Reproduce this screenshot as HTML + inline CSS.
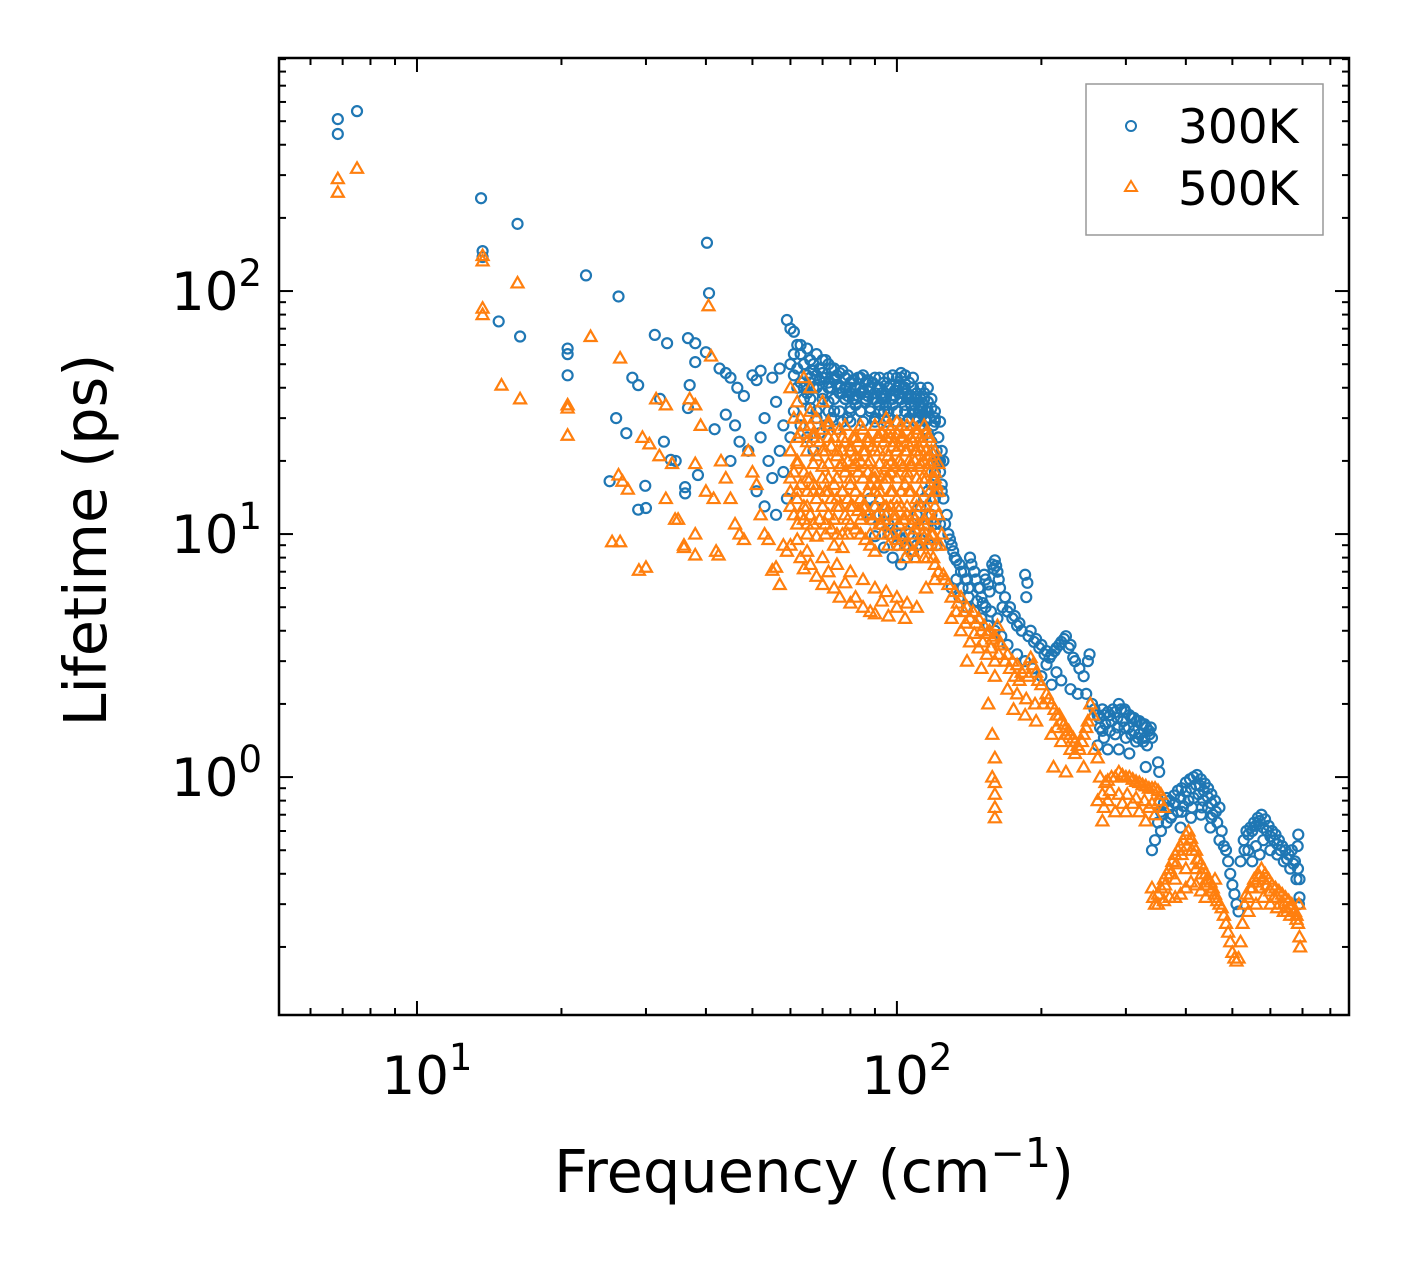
<!DOCTYPE html>
<html><head><meta charset="utf-8"><style>
body{margin:0;background:#fff}
svg text{font-family:"DejaVu Sans","Liberation Sans",sans-serif;fill:#000}
</style></head><body>
<svg id="chart" width="1408" height="1265" viewBox="0 0 1408 1265" xmlns="http://www.w3.org/2000/svg">
<rect x="0" y="0" width="1408" height="1265" fill="#fff"/>
<g id="marks"></g>
<g id="ticks"></g>
<rect x="279" y="58" width="1070" height="957" fill="none" stroke="#000" stroke-width="2.5"/>
<text x="814" y="1192" font-size="59" text-anchor="middle">Frequency (cm<tspan dy="-25" font-size="41">−1</tspan><tspan dy="25">)</tspan></text>
<text transform="translate(106,540) rotate(-90)" font-size="59" text-anchor="middle">Lifetime (ps)</text>
<g>
<rect x="1086" y="84" width="237" height="151" fill="#fff" stroke="#999" stroke-width="1.5"/>
<circle cx="1131" cy="126" r="5" fill="none" stroke="#1f77b4" stroke-width="2"/>
<text x="1178" y="143" font-size="47">300K</text>
<path d="M1131,181 L1137,191 L1125,191 Z" fill="none" stroke="#ff7f0e" stroke-width="2"/>
<text x="1178" y="205" font-size="47">500K</text>
</g>
</svg>
<script>
const freq300=[6.84,6.84,7.5,13.6,13.7,13.7,16.2,22.5,26.3,40.2,40.6,14.8,16.4,20.6,20.6,20.6,31.3,33.2,36.7,38,38,37,28.1,28.9,32.1,36.7,27.3,26,32.7,33.8,34.6,25.2,29.9,28.9,30,36.2,36.2,38.5,41.7,42.7,40,
44,45,46.5,48,44,46,47,45,49,50,51,52,53,52,54,55,51,53,56,55,57,56,58,57,58,59,
59,60,61,62,63,64,65,66,67,68,70,72,74,76,78,80,62,64,66,68,70,72,74,76,78,80,63,65,67,69,71,73,75,77,79,61,60,
82,84,86,88,90,92,94,96,98,100,102,104,106,108,110,112,114,116,118,120,82,84,86,88,90,92,94,96,98,100,102,104,106,108,110,112,114,116,118,121,122,123,124,120,118,116,114,112,110,108,105,100,96,92,88,90,94,98,102,
125,127,128,130,132,135,138,140,142,145,148,150,152,155,158,160,162,164,130,135,140,145,150,155,160,165,
168,172,176,180,185,187,186,190,195,200,205,210,215,220,225,230,235,240,170,178,185,192,200,210,220,230,238,205,215,
245,250,252,248,255,258,
262,268,275,282,290,298,305,312,320,328,335,340,265,272,280,288,296,304,312,320,328,270,285,300,315,332,262,275,290,305,338,
330,350,352,
340,345,350,355,360,365,370,378,385,392,400,408,415,422,430,438,445,452,460,470,355,365,375,385,395,405,415,425,435,445,455,465,475,390,410,430,450,470,480,
485,490,495,500,505,510,515,
520,528,535,545,555,565,575,585,595,605,615,625,635,645,655,665,675,685,690,540,560,580,600,620,640,660,680,690,688,684,686,550,570,
60,61,62,63,64,65,66,67,68,69,70,71,72,73,74,75,76,77,78,79,80,61,63,65,67,69,71,73,75,77,79,81,83,85,87,89,
81,83,85,87,89,91,93,95,97,99,101,103,105,107,109,111,113,115,117,119,91,93,95,97,99,101,103,105,107,109,111,113,
88,90,92,94,96,98,100,102,104,106,108,110,112,114,116,118,120,122,124,
126,129,131,133,136,139,141,143,146,149,151,153,156,159,161,163,133,137,141,147,153,157,162,
166,170,174,178,182,188,193,198,203,208,213,218,223,228,233,
264,270,278,285,293,300,308,316,324,331,336,268,278,288,298,308,318,326,
358,368,380,390,400,410,420,428,436,444,452,462,372,392,412,432,452,
530,540,550,560,570,580,590,600,610,620,630,650,670,
66,70,74,78,84,90,96,102,108,
64,68,72,76,80,84,88,92,96,100,104,108,112,116,
66,70,74,78,82,86,90,94,98,102,106,110,114,118,
68,72,76,80,84,88,92,96,100,104,108,112,116,120,
80,85,90,95,100,105,110,115,120,123,
121,123,125,121,124,120,123,118,121];
const life300=[510,443,550,241,146,138,189,116,95,158,98,75,65,58,55,45,66,61,64,61,51,41,44,41,36,33,26,30,24,20.2,20,16.5,15.8,12.6,12.8,15.6,14.7,17.5,27,48,56,
46,44,40,37,31,28,24,20,22,45,43,47,30,25,20,17,15,13,12,44,48,35,28,22,18,14,
76,70,68,60,55,50,45,52,47,55,52,50,48,46,44,42,40,36,33,30,38,35,32,38,36,33,28,25,22,26,28,30,27,29,30,32,25,
40,38,42,40,38,44,42,40,45,44,46,45,42,40,38,36,38,35,33,30,34,32,35,33,30,34,32,30,34,32,36,34,30,32,30,28,27,26,24,22,20,18,16,14,12,11,10,9.5,9,8.5,8,9,10,11,11.5,9.8,8.8,8,7.5,
14,12,10,9,8,7.5,7,6.5,8,7,6,5.5,6.8,6.2,7.5,7.8,7,6,6,5.5,5,4.8,4.5,4.2,4,3.8,
5.5,5,4.6,4.3,6.8,6.3,5.5,4,3.7,3.5,3.3,3.2,3.4,3.6,3.8,3.5,3.0,2.8,3.5,3.2,3.0,2.8,2.6,2.4,2.5,2.3,2.2,2.9,2.7,
2.6,3.0,3.2,2.2,2.0,1.9,
1.8,1.9,1.85,1.9,2.0,1.9,1.8,1.75,1.7,1.65,1.55,1.45,1.6,1.65,1.7,1.75,1.7,1.6,1.55,1.5,1.45,1.45,1.5,1.45,1.4,1.35,1.35,1.3,1.3,1.25,1.6,
1.1,1.15,1.05,
0.5,0.55,0.65,0.72,0.78,0.82,0.8,0.84,0.88,0.9,0.95,0.98,1.0,1.02,0.98,0.94,0.9,0.85,0.8,0.75,0.6,0.65,0.7,0.72,0.76,0.8,0.82,0.85,0.8,0.75,0.7,0.65,0.6,0.62,0.68,0.7,0.62,0.55,0.52,
0.5,0.45,0.4,0.36,0.33,0.3,0.28,
0.45,0.55,0.6,0.62,0.65,0.68,0.7,0.67,0.63,0.6,0.58,0.55,0.52,0.5,0.48,0.5,0.45,0.42,0.38,0.5,0.52,0.55,0.5,0.48,0.45,0.42,0.38,0.32,0.3,0.52,0.58,0.45,0.48,
50,45,48,42,40,38,42,40,45,43,46,44,42,40,43,41,40,38,40,37,38,55,60,58,50,48,52,48,45,47,45,43,44,45,43,42,
36,37,39,37,36,40,38,37,41,39,41,40,38,37,36,34,33,32,30,28,35,36,34,36,37,38,38,36,34,34,32,31,
14,13,12,12,11,10.5,10,9.5,9,10,11,12,13,14,15,16,18,25,22,
11,9.5,8.5,7.8,7,6.5,6,7.5,6.5,6,5.2,6.5,5.8,7.2,7.4,6.5,6.5,6,5.5,5.3,5,4.8,4.5,
5,4.8,4.5,4.2,4,3.8,3.6,3.4,3.2,3.1,3.3,3.5,3.7,3.4,3.1,
1.75,1.8,1.8,1.85,1.9,1.85,1.75,1.7,1.65,1.6,1.5,1.55,1.55,1.6,1.6,1.5,1.45,1.4,
0.7,0.75,0.78,0.82,0.87,0.9,0.93,0.92,0.88,0.83,0.78,0.72,0.68,0.72,0.75,0.75,0.68,
0.5,0.58,0.6,0.63,0.66,0.62,0.6,0.57,0.55,0.53,0.5,0.46,0.44,
44,44,44,44,44,44,44,44,44,
40,40,40,40,40,40,40,40,40,40,40,40,40,40,
36,36,36,36,36,36,36,36,36,36,36,36,36,36,
32,32,32,32,32,32,32,32,32,32,32,32,32,32,
29,29,29,29,29,29,29,29,29,29,
20,20,20,15,15,11,11,9,9];
const freq500=[6.84,6.84,7.5,13.7,13.7,13.7,13.7,16.2,15,16.4,20.6,20.6,20.6,23,26.5,26.3,26.8,27.5,25.5,26.5,29,30,29.5,30.5,31.5,33,32,34,33,35,34.5,36,36,38,38,40.5,41,37,38,39,38,40,41.5,42,42.5,43,44,45,46,47,48,49,50,51,52,53,54,55,56,57,58,59,62,63,64,66,68,70,72,74,76,78,80,82,85,88,90,93,96,100,104,
60,62,63,64,66,68,70,72,74,76,78,60,62,64,66,68,70,72,74,76,78,60,62,64,66,68,70,72,74,76,78,80,82,84,86,80,82,84,86,88,90,62,65,68,71,74,77,80,82,84,86,88,90,92,94,96,98,100,102,104,106,108,110,112,114,116,118,120,88,90,92,94,96,98,100,102,104,106,108,110,112,114,116,118,120,122,124,92,96,100,104,108,112,116,120,85,90,95,100,105,110,115,70,66,64,
125,128,130,134,138,142,146,150,154,158,162,165,130,136,142,148,154,160,140,150,160,168,172,176,180,185,190,195,200,170,178,186,194,202,175,185,195,155,158,160,160,160,160,160,158,
205,210,215,220,225,230,235,240,245,250,253,256,258,262,210,220,230,212,225,245,
265,272,280,290,300,310,320,330,340,350,268,278,290,302,315,328,340,352,262,270,285,300,320,345,268,330,360,
340,342,345,350,355,360,365,370,375,380,385,390,395,400,405,410,415,420,425,430,435,440,445,450,455,460,465,470,350,360,370,380,390,400,410,420,430,440,380,400,420,440,460,475,480,
485,490,495,500,505,510,515,520,525,530,
535,545,555,565,575,585,595,605,615,625,635,645,655,665,675,685,690,692,540,560,580,600,620,640,660,680,570,610,650,688,
61,63,65,67,69,71,73,75,77,79,61,63,65,67,69,71,73,75,77,79,61,63,65,67,69,71,73,75,77,79,
81,83,85,87,89,91,93,95,97,99,101,103,105,107,109,111,113,115,117,119,121,
81,83,85,87,89,91,93,95,97,99,101,103,105,107,109,111,113,115,117,119,121,123,
81,83,87,89,91,93,95,97,99,101,103,105,107,109,111,113,115,117,119,
60,65,70,75,80,85,90,95,100,105,110,115,120,
122,126,132,136,140,144,148,152,156,160,164,133,139,145,151,157,163,170,174,178,182,188,192,197,
207,213,218,223,228,233,238,243,248,215,225,235,
275,285,295,305,315,325,335,345,355,275,295,310,335,
362,372,382,392,402,412,422,432,442,452,462,
540,550,560,570,580,590,600,620,640,660,680,
66,72,78,84,90,96,102,108,114,
62,67,72,77,82,87,92,97,102,107,112,117,
60,65,70,75,80,85,90,95,100,105,110,115,120,
62,67,72,77,82,87,92,97,102,107,112,117,122,
60,65,70,75,80,85,90,95,100,105,110,115,120,
62,67,72,77,82,87,92,97,102,107,112,117,122,
60,65,70,75,80,85,90,95,100,105,110,115,120,
64,69,74,79,84,89,94,99,104,109,114,119,
88,93,98,103,108,113,118,
96,101,106,111,116,121,
104,109,114,119];
const life500=[290,255,320,140,133,85,80,108,41,36,34,33,25.5,65,53,17.5,16.5,15.3,9.3,9.3,7.1,7.3,25,23.5,36,34,21,19.5,14,11.5,11.5,9,8.8,8.2,10,87,54,36,34,28,19.5,15,14,8.5,8.2,20,17,14,11,10,9.5,22,18,16,12,10,9.5,7.1,7.3,6.2,9,8.5,9.5,8,7.2,7.5,6.7,6.2,7,6,5.5,6.3,5.2,5.5,5.0,4.8,4.7,5.3,4.6,5.0,4.5,
40,35,30,28,32,30,27,29,25,27,24,22,20,18,17,21,19,17,16,19,18,15,14,13,12,14,13,12,11.5,13,12,16,15,14,13,11,10.5,10,9.5,9,8.5,11,10,9.8,10,9,8.8,23,21,20,22,20,18,22,24,21,23,26,25,22,20,24,26,22,20,25,22,18,16,15,14,13,17,15,14,13,16,15,12,14,13,11,12,14,15,12,10,11,10,9.5,9,8.5,9,8,7.5,27,28,30,29,28,27,26,35,40,44,
6.8,6.2,5.5,5.2,4.8,4.5,4.3,4.0,3.9,3.7,4.2,3.5,4.5,4.0,3.6,3.4,3.2,3.0,3.0,2.8,2.6,3.0,2.8,2.6,2.5,2.8,3.1,2.7,2.4,2.3,2.2,2.1,2.0,2.0,1.9,1.8,1.7,2.0,1.5,1.2,0.95,0.85,0.75,0.68,1.0,
2.2,2.0,1.8,1.7,1.6,1.5,1.4,1.3,1.5,1.7,2.0,1.8,1.3,1.2,1.5,1.4,1.3,1.1,1.05,1.1,
1.0,0.95,1.0,1.05,1.0,0.98,0.95,0.92,0.9,0.88,0.85,0.88,0.85,0.85,0.82,0.8,0.78,0.8,0.8,0.75,0.72,0.72,0.72,0.7,0.66,0.66,0.75,
0.35,0.32,0.3,0.33,0.35,0.38,0.4,0.42,0.45,0.48,0.5,0.52,0.55,0.58,0.6,0.56,0.52,0.5,0.46,0.44,0.42,0.4,0.38,0.37,0.35,0.33,0.31,0.3,0.3,0.31,0.32,0.32,0.33,0.35,0.37,0.36,0.34,0.32,0.38,0.42,0.42,0.36,0.38,0.29,0.27,
0.25,0.23,0.21,0.19,0.18,0.175,0.18,0.21,0.25,0.3,
0.33,0.35,0.38,0.4,0.42,0.4,0.38,0.36,0.35,0.34,0.33,0.32,0.31,0.3,0.28,0.25,0.22,0.2,0.28,0.3,0.32,0.3,0.29,0.28,0.27,0.26,0.35,0.32,0.28,0.3,
30,26,24,26,24,22,23,21,22,20,18,16,15,16,15,15,14,14,15,14,12,12,11,11,11.5,11,10.5,10,10,10,
19,18,17,18,17,16,17,19,18,19,20,19,18,19,20,19,17,17,18,17,16,
13,12.5,12,12,11.5,12,11,12,13,12,11,11.5,12,11,10.5,11,10,10,9.5,10,9,9,
25,24,24,23,25,26,25,27,24,23,25,24,25,22,23,24,22,21,20,
9,8.5,8,7.5,7,6.5,6,5.8,5.5,5.2,5,6,6.5,
7,6.5,5.8,5.5,5,4.8,4.5,4.2,4,3.8,3.6,4.8,4.3,3.9,3.6,3.4,3.2,3.2,3,2.9,2.7,2.6,2.9,2.5,
2.1,1.9,1.8,1.65,1.55,1.45,1.35,1.4,1.6,1.6,1.5,1.25,
0.97,1.0,1.02,1.0,0.96,0.93,0.9,0.9,0.85,0.8,0.78,0.78,0.75,
0.36,0.4,0.44,0.48,0.52,0.5,0.46,0.4,0.38,0.34,0.32,
0.32,0.35,0.37,0.39,0.38,0.36,0.34,0.32,0.3,0.29,0.27,
28,28,28,28,28,28,28,28,28,
25,25,25,25,25,25,25,25,25,25,25,25,
22,22,22,22,22,22,22,22,22,22,22,22,22,
19.5,19.5,19.5,19.5,19.5,19.5,19.5,19.5,19.5,19.5,19.5,19.5,19.5,
17,17,17,17,17,17,17,17,17,17,17,17,17,
15,15,15,15,15,15,15,15,15,15,15,15,15,
13,13,13,13,13,13,13,13,13,13,13,13,13,
11.5,11.5,11.5,11.5,11.5,11.5,11.5,11.5,11.5,11.5,11.5,11.5,
10,10,10,10,10,10,10,
9,9,9,9,9,9,
8,8,8,8];
const xTickLabels=["1","2"];
const yTickLabels=["0","1","2"];

const NS="http://www.w3.org/2000/svg";
const L=279,R=1349,T=58,B=1015;
const xMin=0.7125,xMax=2.942,yMin=-0.979,yMax=2.959;
function xs(v){return L+(Math.log10(v)-xMin)/(xMax-xMin)*(R-L);}
function ys(v){return B-(Math.log10(v)-yMin)/(yMax-yMin)*(B-T);}
const marks=document.getElementById('marks');
for(let i=0;i<Math.min(freq300.length,life300.length);i++){
  const c=document.createElementNS(NS,'circle');
  c.setAttribute('cx',xs(freq300[i]));c.setAttribute('cy',ys(life300[i]));c.setAttribute('r',5);
  c.setAttribute('fill','none');c.setAttribute('stroke','#1f77b4');c.setAttribute('stroke-width',2.2);
  
  
  marks.appendChild(c);
}
for(let i=0;i<Math.min(freq500.length,life500.length);i++){
  const x=xs(freq500[i]),y=ys(life500[i]);
  const p=document.createElementNS(NS,'path');
  p.setAttribute('d',`M${x},${y-6} L${x+6},${y+4.5} L${x-6},${y+4.5} Z`);
  p.setAttribute('fill','none');p.setAttribute('stroke','#ff7f0e');p.setAttribute('stroke-width',2.2);
  
  
  marks.appendChild(p);
}
const tg=document.getElementById('ticks');
function line(x1,y1,x2,y2,name){
  const l=document.createElementNS(NS,'line');
  l.setAttribute('x1',x1);l.setAttribute('y1',y1);l.setAttribute('x2',x2);l.setAttribute('y2',y2);
  l.setAttribute('stroke','#000');l.setAttribute('stroke-width',2);
  
  
  tg.appendChild(l);
}
for(let d=0;d<=3;d++){for(let m=1;m<=9;m++){
  const v=m*Math.pow(10,d);const lv=Math.log10(v);
  if(lv<xMin||lv>xMax)continue;
  const x=xs(v),len=(m===1)?14:7;
  line(x,B,x,B-len,'x-tick');line(x,T,x,T+len,'x-tick-top');
}}
for(let d=-1;d<=2;d++){for(let m=1;m<=9;m++){
  const v=m*Math.pow(10,d);const lv=Math.log10(v);
  if(lv<yMin||lv>yMax)continue;
  const y=ys(v),len=(m===1)?14:7;
  line(L,y,L+len,y,'y-tick');line(R,y,R-len,y,'y-tick-right');
}}
function powLabel(x,y,e,anchor,name){
  const t=document.createElementNS(NS,'text');
  t.setAttribute('x',x);t.setAttribute('y',y);t.setAttribute('font-size',53);t.setAttribute('text-anchor',anchor);
  t.innerHTML='10<tspan dy="-24" font-size="37">'+e+'</tspan>';
  
  
  tg.appendChild(t);
}
xTickLabels.forEach(e=>powLabel(xs(Math.pow(10,+e))+10,1094,e,'middle','x-tick-label'));
yTickLabels.forEach(e=>powLabel(262,ys(Math.pow(10,+e))+19,e,'end','y-tick-label'));
</script>
</body></html>
